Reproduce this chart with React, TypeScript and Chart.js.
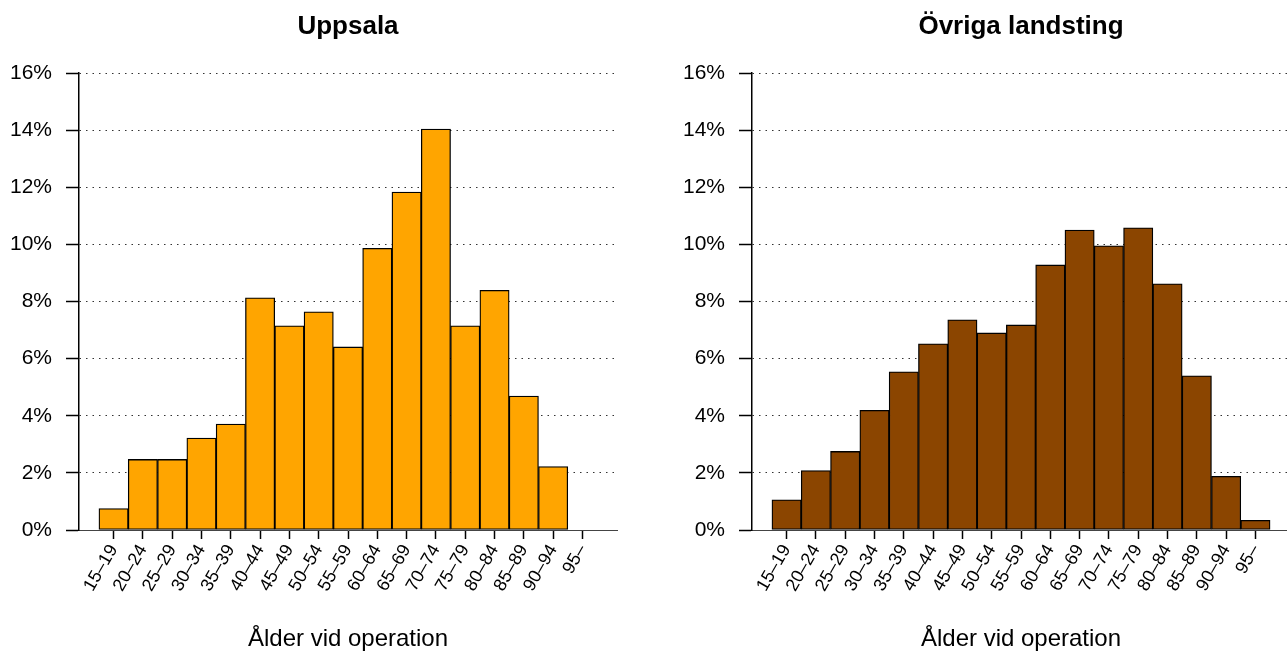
import React, { useEffect, useRef } from "react";
import { Chart, registerables } from "chart.js";

Chart.register(...registerables);

const FONT = '"Liberation Sans", Arial, Helvetica, sans-serif';

const ageGroups = [
  "15–19", "20–24", "25–29", "30–34", "35–39", "40–44", "45–49", "50–54",
  "55–59", "60–64", "65–69", "70–74", "75–79", "80–84", "85–89", "90–94", "95–",
];

const uppsalaPct = [
  0.75, 2.47, 2.47, 3.22, 3.71, 8.13, 7.15, 7.64, 6.41, 9.86, 11.83, 14.04,
  7.15, 8.39, 4.69, 2.22, 0,
];

const ovrigaPct = [
  1.06, 2.08, 2.75, 4.19, 5.54, 6.52, 7.36, 6.9, 7.18, 9.28, 10.5, 9.95,
  10.58, 8.62, 5.4, 1.88, 0.34,
];

const yTickValues = [0, 2, 4, 6, 8, 10, 12, 14, 16];

const panelTitles = ["Uppsala", "Övriga landsting"];
const xAxisTitle = "Ålder vid operation";

const PANEL_W = 673;
const PANEL_H = 659;

const titlePlugin = {
  id: "panelTitle",
  afterDraw(chart: any, _args: any, opts: any) {
    const { ctx, chartArea } = chart;
    ctx.save();
    ctx.font = `bold 26px ${FONT}`;
    ctx.fillStyle = "#000";
    ctx.textAlign = "center";
    ctx.textBaseline = "alphabetic";
    ctx.fillText(opts.text, (chartArea.left + chartArea.right) / 2, 34);
    ctx.restore();
  },
};

function Panel({ title, values, color, left }: { title: string; values: number[]; color: string; left: number }) {
  const ref = useRef<HTMLCanvasElement | null>(null);

  useEffect(() => {
    if (!ref.current) return;
    const chart = new Chart(ref.current, {
      type: "bar",
      data: {
        datasets: [
          {
            data: values.map((v, i) => ({ x: i, y: v })),
            backgroundColor: color,
            borderColor: "#000",
            borderWidth: 1.3,
            borderSkipped: false,
            barPercentage: 1,
            categoryPercentage: 1,
          },
        ],
      },
      options: {
        animation: false,
        responsive: false,
        devicePixelRatio: 1,
        layout: { padding: { left: 0, right: 56, top: 73, bottom: 0 } },
        plugins: {
          legend: { display: false },
          tooltip: { enabled: false },
          panelTitle: { text: title },
        } as any,
        scales: {
          x: {
            type: "linear",
            min: -1.18,
            max: 17.18,
            offset: false,
            afterBuildTicks: (scale: any) => {
              scale.ticks = ageGroups.map((_, i) => ({ value: i }));
            },
            afterFit: (scale: any) => {
              scale.height = PANEL_H - 530;
            },
            grid: {
              offset: false,
              display: true,
              drawOnChartArea: false,
              drawTicks: true,
              tickLength: 9,
              tickColor: "#000",
              tickWidth: 1.5,
            },
            border: { display: true, color: "#444", width: 1 },
            ticks: {
              autoSkip: false,
              minRotation: 60,
              maxRotation: 60,
              padding: 2,
              color: "#000",
              font: { family: FONT, size: 18 },
              callback: (v: any) => ageGroups[Math.round(Number(v))] ?? "",
            },
            title: {
              display: true,
              text: xAxisTitle,
              color: "#000",
              font: { family: FONT, size: 24 },
              padding: { top: 4, bottom: 5 },
            },
          },
          y: {
            type: "linear",
            min: 0,
            max: 16,
            afterBuildTicks: (scale: any) => {
              scale.ticks = yTickValues.map((v) => ({ value: v }));
            },
            afterFit: (scale: any) => {
              scale.width = 79;
            },
            grid: {
              display: true,
              drawOnChartArea: true,
              drawTicks: true,
              tickLength: 13,
              tickColor: "#000",
              tickWidth: 1.5,
              color: "#333",
              lineWidth: 1,
            },
            border: { display: true, color: "#000", width: 1.5, dash: [1.5, 5] },
            ticks: {
              padding: 14,
              color: "#000",
              font: { family: FONT, size: 21 },
              callback: (v: any) => `${v}%`,
            },
          },
        },
      },
      plugins: [titlePlugin],
    } as any);
    return () => chart.destroy();
  }, [title, values, color]);

  return (
    <div style={{ position: "absolute", left, top: 0, width: PANEL_W, height: PANEL_H }}>
      <canvas ref={ref} width={PANEL_W} height={PANEL_H} style={{ display: "block" }} />
    </div>
  );
}

export default function App() {
  return (
    <div
      style={{
        position: "fixed",
        left: 0,
        top: 0,
        width: 1287,
        height: 659,
        overflow: "hidden",
        background: "#fff",
      }}
    >
      <Panel title={panelTitles[0]} values={uppsalaPct} color="#FFA500" left={0} />
      <Panel title={panelTitles[1]} values={ovrigaPct} color="#8B4500" left={PANEL_W} />
    </div>
  );
}
